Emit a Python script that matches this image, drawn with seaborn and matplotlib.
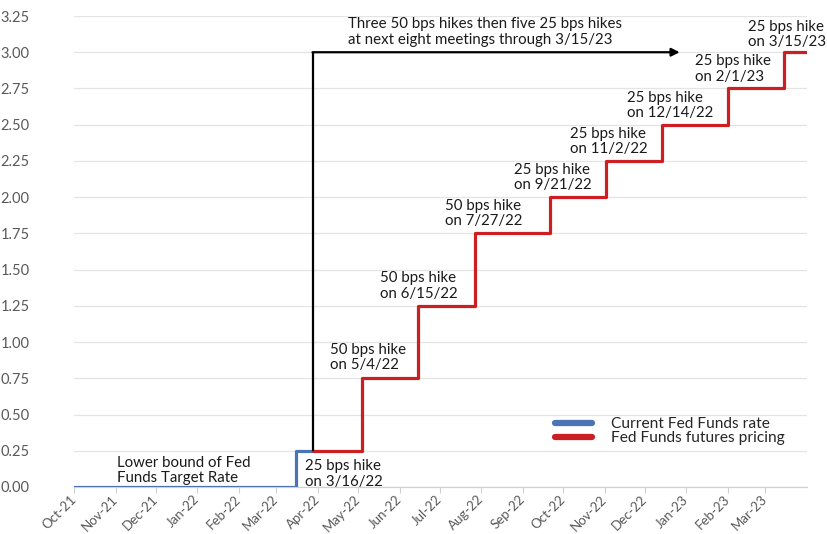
import matplotlib
matplotlib.use("Agg")
import matplotlib.pyplot as plt
import matplotlib.transforms as mtransforms
from matplotlib.lines import Line2D
import pandas as pd
import seaborn as sns

# Current Fed Funds target rate (lower bound), step series
blue_dates = ["2021-10-01", "2022-03-16", "2022-03-28"]
blue_rates = [0.00, 0.25, 0.25]

# Fed Funds futures implied path, step series
red_dates = ["2022-03-28", "2022-05-04", "2022-06-15", "2022-07-27", "2022-09-21",
             "2022-11-02", "2022-12-14", "2023-02-01", "2023-03-15", "2023-03-31"]
red_rates = [0.25, 0.75, 1.25, 1.75, 2.00, 2.25, 2.50, 2.75, 3.00, 3.00]

# Hike labels: text and placement (pixels, centre-left of the block)
hike_texts = ["25 bps hike\non 3/16/22", "50 bps hike\non 5/4/22", "50 bps hike\non 6/15/22",
              "50 bps hike\non 7/27/22", "25 bps hike\non 9/21/22", "25 bps hike\non 11/2/22",
              "25 bps hike\non 12/14/22", "25 bps hike\non 2/1/23", "25 bps hike\non 3/15/23"]
hike_px = [(305, 474), (330, 357.5), (380, 286), (445, 213.5), (514, 177.5),
           (570, 141.5), (627, 105.5), (695, 69), (748, 34.5)]

series_names = ["Current Fed Funds rate", "Fed Funds futures pricing"]
y_ticks = [0.00, 0.25, 0.50, 0.75, 1.00, 1.25, 1.50, 1.75, 2.00, 2.25, 2.50, 2.75, 3.00, 3.25]
x_start, x_end = "2021-10-01", "2023-04-01"
arrow_start, arrow_end = "2022-03-28", "2022-12-27"

BLUE = "#4a74b4"
RED = "#cc1f24"
GRAY_TXT = "#595959"

sns.set_style("white")
plt.rcParams["font.family"] = ["Lato", "DejaVu Sans"]

W, H, DPI = 828, 534, 100
fig = plt.figure(figsize=(W / DPI, H / DPI), dpi=DPI)
L, R, T, B = 74, 807, 16, 487
ax = fig.add_axes([L / W, 1 - B / H, (R - L) / W, (B - T) / H])

blue_df = pd.DataFrame({"date": pd.to_datetime(blue_dates), "rate": blue_rates})
red_df = pd.DataFrame({"date": pd.to_datetime(red_dates), "rate": red_rates})

sns.lineplot(data=blue_df, x="date", y="rate", ax=ax, color=BLUE, lw=2.3,
             drawstyle="steps-post", zorder=3)
sns.lineplot(data=red_df, x="date", y="rate", ax=ax, color=RED, lw=2.3,
             drawstyle="steps-post", zorder=3)

# Black bracket: vertical from current rate up to the end level, then arrow right
a0 = pd.Timestamp(arrow_start)
ax.plot([a0, a0], [red_rates[0], red_rates[-1]], color="black", lw=1.6, zorder=4,
        solid_capstyle="butt")
ax.annotate("", xy=(pd.Timestamp(arrow_end), red_rates[-1]), xytext=(a0, red_rates[-1]),
            arrowprops=dict(arrowstyle="-|>", color="black", lw=1.6,
                            mutation_scale=12, shrinkA=0, shrinkB=0), zorder=4)

ax.set_xlim(pd.Timestamp(x_start), pd.Timestamp(x_end))
ax.set_ylim(0, 3.25)
ax.set_yticks(y_ticks)
ax.set_yticklabels([f"{v:.2f}" for v in y_ticks], color=GRAY_TXT, fontsize=10.5)
ax.grid(axis="y", color="#e4e4e4", lw=0.9)
ax.set_axisbelow(True)

ticks = pd.date_range(x_start, "2023-03-01", freq="MS")
ax.set_xticks(ticks)
ax.set_xticklabels([d.strftime("%b-%y") for d in ticks], rotation=45, ha="right",
                   va="center", rotation_mode="anchor", color=GRAY_TXT, fontsize=9.5)
offset = mtransforms.ScaledTranslation(-3 / DPI, 0, fig.dpi_scale_trans)
for lbl in ax.get_xticklabels():
    lbl.set_transform(lbl.get_transform() + offset)
ax.tick_params(axis="x", length=4, color="#d0d0d0", width=0.8, pad=3.5, bottom=True)
ax.tick_params(axis="y", length=0, pad=32)

for s in ["top", "right", "left"]:
    ax.spines[s].set_visible(False)
ax.spines["bottom"].set_color("#d0d0d0")
ax.spines["bottom"].set_linewidth(0.9)
ax.set_xlabel("")
ax.set_ylabel("")

def px_to_axes(px, py):
    return (px - L) / (R - L), (B - py) / (B - T)

ann_kw = dict(transform=ax.transAxes, fontsize=10.8, color="#1a1a1a", ha="left",
              va="center", linespacing=1.15, zorder=5)
for txt, (px, py) in zip(hike_texts, hike_px):
    ax.text(*px_to_axes(px, py), txt, **ann_kw)
ax.text(*px_to_axes(117, 470.5), "Lower bound of Fed\nFunds Target Rate", **ann_kw)
ax.text(*px_to_axes(348, 32), "Three 50 bps hikes then five 25 bps hikes\n"
        "at next eight meetings through 3/15/23", **ann_kw)

handles = [Line2D([], [], color=BLUE, lw=4.5), Line2D([], [], color=RED, lw=4.5)]
ax.legend(handles, series_names, loc="upper left", bbox_to_anchor=px_to_axes(555, 417),
          frameon=False, fontsize=11.2, handlelength=2.4, handletextpad=1.2,
          labelspacing=0.0, borderpad=0, borderaxespad=0)

fig.savefig("out.png", dpi=DPI)
